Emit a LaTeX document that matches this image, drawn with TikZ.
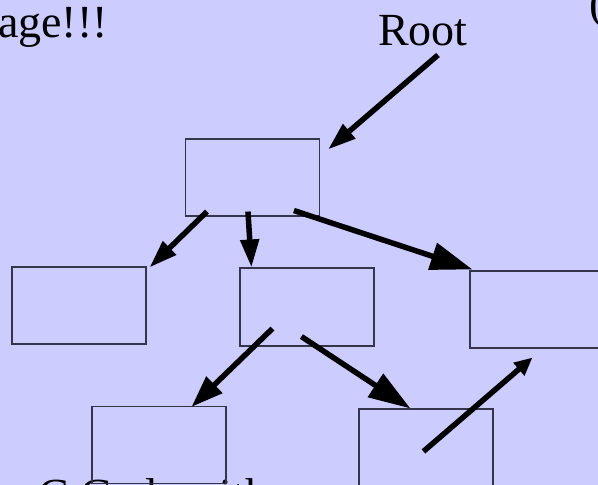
\documentclass[tikz,border=0pt]{standalone}
\usepackage{fontspec}
\setmainfont{Liberation Serif}
\usepackage{tikz}
\usetikzlibrary{calc,arrows.meta}
\usepackage{xcolor}
\definecolor{slidebg}{HTML}{CCCCFF}
\definecolor{boxline}{HTML}{34344A}

\begin{document}
\begin{tikzpicture}[
      x=1pt, y=-1pt,
      every node/.style={font=\fontsize{46}{55}\selectfont, text=black, inner sep=0pt},
      box/.style={
        draw=boxline, line width=1.1pt,
        minimum width=134pt, minimum height=77pt
      },
      arr/.style={
        line width=5.5pt,
        -{Triangle[length=28pt,width=18pt]}
      },
      bigarr/.style={
        line width=5.5pt,
        -{Triangle[length=42pt,width=27pt]}
      }
    ]
      \useasboundingbox (0,0) rectangle (598,485);
      \clip (0,0) rectangle (598,485);
      \fill[slidebg] (0,0) rectangle (598,485);
      % texts cut by the slide edges
      \node[anchor=base east] (title) at (108,37) {page!!!};
      \node[anchor=base west] (paren) at (589,18) {(};
      \node[anchor=base west] (root) at (378,45) {Root};
      \node[anchor=base west] (algo) at (38,510) {C G algorithm};
      % boxes
      \node[box] (top) at (252.5,177.5) {};
      \node[box] (left) at (79,305.5) {};
      \node[box, minimum height=78pt] (mid) at (307,307) {};
      \node[box] (right) at (537,309.5) {};
      \node[box] (botL) at (159,445) {};
      \node[box] (botR) at (426,447.5) {};
      \coordinate (rootTail) at (438,55);
      % arrows
      \draw[arr] (rootTail) -- ($(top.north east)+(8,11)$);
      \draw[arr] ($(top.south west)+(22,-5)$) -- ($(left.north east)+(3,1)$);
      \draw[arr] ($(top.south west)+(63,-5)$) -- ($(mid.north west)+(12,0)$);
      \draw[bigarr] ($(top.south west)+(109,-6)$) -- ($(right.north west)+(3,-1)$);
      \draw[arr, -{Triangle[length=32pt,width=22pt]}] ($(mid.south west)+(33,-18)$) -- ($(botL.north west)+(100,1)$);
      \draw[bigarr] ($(mid.south west)+(62,-10)$) -- ($(botR.north west)+(52,0)$);
      \draw[arr, -{Triangle[length=18pt,width=16pt]}] ($(botR.north west)+(65,43)$) -- ($(right.south west)+(63,9)$);
    \end{tikzpicture}
\end{document}
